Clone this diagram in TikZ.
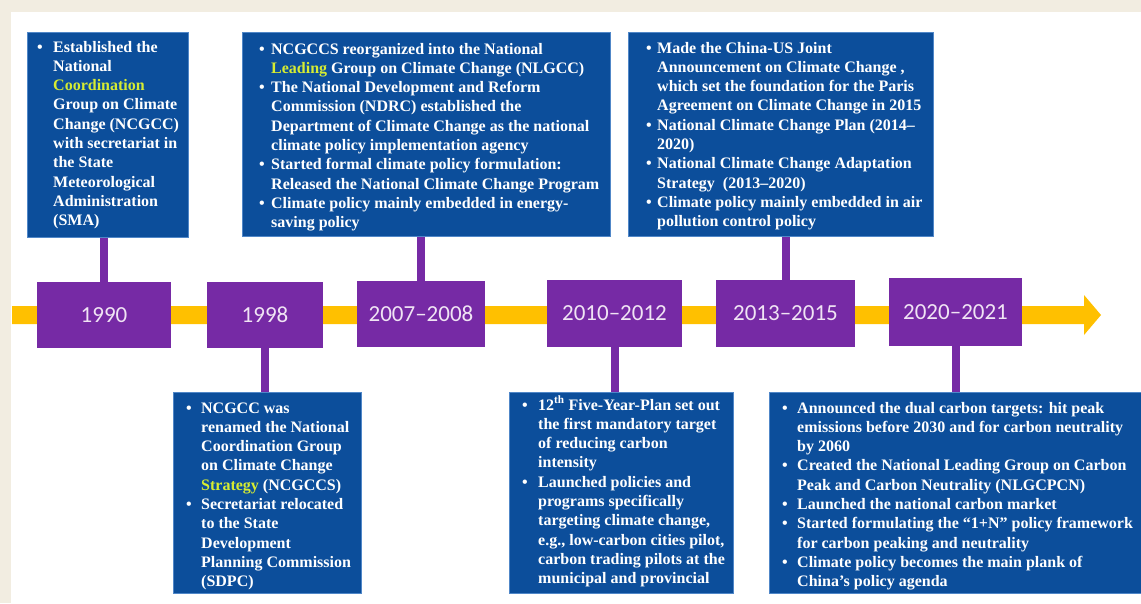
\documentclass[tikz,border=0pt]{standalone}
\usepackage{fontspec}
\setmainfont{Liberation Serif}
\newfontfamily\yearfont{Carlito}

\definecolor{pagebg}{RGB}{242,237,225}
\definecolor{tlyellow}{RGB}{255,192,0}
\definecolor{tlpurple}{RGB}{118,42,165}
\definecolor{boxblue}{RGB}{12,78,155}
\definecolor{boxedge}{RGB}{80,135,200}
\definecolor{hlgreen}{RGB}{214,236,50}
\definecolor{yeartext}{RGB}{240,228,244}

% bulleted text block: width, hanging indent, items
\newlength\bulind
\newcommand\bitem{\par\noindent\hangindent=\bulind\hangafter=1\relax
  \makebox[\bulind][l]{\textbullet}}
\newcommand\nl{\unskip\break}
\newcommand\hl[1]{\textcolor{hlgreen}{#1}}
\newcommand\bulletblock[3]{\vtop{\hsize=#1\relax\setlength\bulind{#2}%
  \raggedright\parindent=0pt\parskip=0pt #3\par}}

\begin{document}
\begin{tikzpicture}[x=1pt,y=-1pt,
  infobox/.style={draw=boxedge,line width=0.8pt,fill=boxblue,inner sep=0pt,anchor=north west},
  infotext/.style={text=white,inner sep=0pt,anchor=base west,
    font=\fontsize{16pt}{19.3pt}\selectfont\bfseries},
  yearbox/.style={fill=tlpurple,inner sep=0pt,text=yeartext,
    font=\yearfont\fontsize{23pt}{26pt}\selectfont},
  stem/.style={draw=tlpurple,line width=8pt}]
\useasboundingbox (0,0) rectangle (1141,603);

% page and panel
\fill[pagebg] (0,0) rectangle (1141,603);
\fill[white] (11,12) rectangle (1141,603);

% timeline arrow
\fill[tlyellow] (12,306) -- (1084,306) -- (1084,295) -- (1101,315)
  -- (1084,335) -- (1084,324) -- (12,324) -- cycle;

% year markers
\node[yearbox,minimum width=134pt,minimum height=66pt] (y1990) at (104,315) {1990};
\node[yearbox,minimum width=116pt,minimum height=66pt] (y1998) at (265,315) {1998};
\node[yearbox,minimum width=128pt,minimum height=66pt] (y2007) at (421,314) {2007–2008};
\node[yearbox,minimum width=135pt,minimum height=67pt] (y2010) at (614.5,313.5) {2010–2012};
\node[yearbox,minimum width=139pt,minimum height=67pt] (y2013) at (785.5,313.5) {2013–2015};
\node[yearbox,minimum width=133pt,minimum height=68pt] (y2020) at (955.5,312) {2020–2021};

% event boxes
\node[infobox,minimum width=161pt,minimum height=205pt] (b1990) at (27,32) {};
\node[infobox,minimum width=368pt,minimum height=204pt] (b2007) at (242,32) {};
\node[infobox,minimum width=305pt,minimum height=204pt] (b2013) at (628,32) {};
\node[infobox,minimum width=188pt,minimum height=201pt] (b1998) at (173,392) {};
\node[infobox,minimum width=224pt,minimum height=201pt] (b2010) at (509,392) {};
\node[infobox,minimum width=380pt,minimum height=201pt] (b2020) at (769,392) {};

% stems
\draw[stem] (y1990.north) -- (y1990.north |- b1990.south);
\draw[stem] (y2007.north) -- (y2007.north |- b2007.south);
\draw[stem] (y2013.north) -- (y2013.north |- b2013.south);
\draw[stem] (y1998.south) -- (y1998.south |- b1998.north);
\draw[stem] (y2010.south) -- (y2010.south |- b2010.north);
\draw[stem] (y2020.south) -- (y2020.south |- b2020.north);

% event texts
\node[infotext] (t1990) at (37,52) {\bulletblock{150pt}{16pt}{%
  \bitem Established the\nl National\nl \hl{Coordination}\nl Group on Climate\nl
  Change (NCGCC)\nl with secretariat in\nl the State\nl Meteorological\nl
  Administration\nl (SMA)}};

\node[infotext] (t2007) at (259,54) {\bulletblock{350pt}{12pt}{%
  \bitem NCGCCS reorganized into the National\nl
  \hl{Leading} Group on Climate Change (NLGCC)
  \bitem The National Development and Reform\nl
  Commission (NDRC) established the\nl
  Department of Climate Change as the national\nl
  climate policy implementation agency
  \bitem Started formal climate policy formulation:\nl
  Released the National Climate Change Program
  \bitem Climate policy mainly embedded in energy-\nl
  saving policy}};

\node[infotext] (t2013) at (646,53) {\bulletblock{287pt}{11pt}{%
  \bitem Made the China-US Joint\nl
  Announcement on Climate Change ,\nl
  which set the foundation for the Paris\nl
  Agreement on Climate Change in 2015
  \bitem National Climate Change Plan (2014–\nl 2020)
  \bitem National Climate Change Adaptation\nl Strategy~ (2013–2020)
  \bitem Climate policy mainly embedded in air\nl pollution control policy}};

\node[infotext] (t1998) at (186,413) {\bulletblock{174pt}{15pt}{%
  \bitem NCGCC was\nl renamed the National\nl Coordination Group\nl
  on Climate Change\nl \hl{Strategy} (NCGCCS)
  \bitem Secretariat relocated\nl to the State\nl Development\nl
  Planning Commission\nl (SDPC)}};

\node[infotext] (t2010) at (522,410) {\bulletblock{210pt}{16pt}{%
  \bitem 12\textsuperscript{th} Five-Year-Plan set out\nl
  the first mandatory target\nl of reducing carbon\nl intensity
  \bitem Launched policies and\nl programs specifically\nl
  targeting climate change,\nl e.g., low-carbon cities pilot,\nl
  carbon trading pilots at the\nl municipal and provincial}};

\node[infotext] (t2020) at (782,413) {\bulletblock{358pt}{15pt}{%
  \bitem Announced the dual carbon targets: hit peak\nl
  emissions before 2030 and for carbon neutrality\nl by 2060
  \bitem Created the National Leading Group on Carbon\nl
  Peak and Carbon Neutrality (NLGCPCN)
  \bitem Launched the national carbon market
  \bitem Started formulating the “1+N” policy framework\nl
  for carbon peaking and neutrality
  \bitem Climate policy becomes the main plank of\nl
  China’s policy agenda}};
\end{tikzpicture}
\end{document}
